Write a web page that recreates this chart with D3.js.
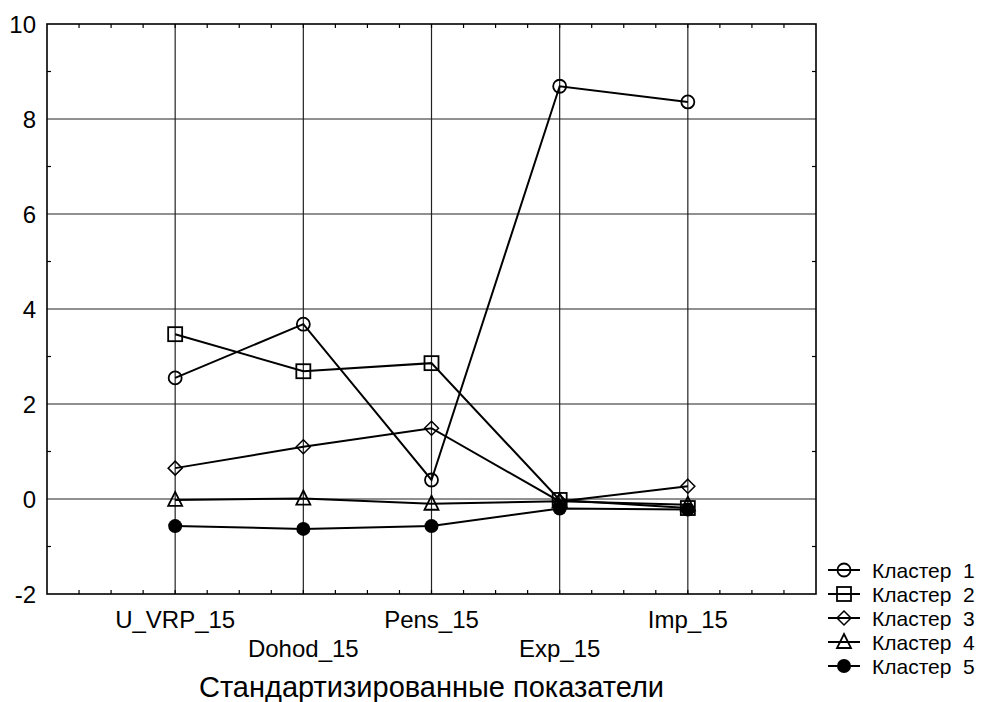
<!DOCTYPE html>
<html>
<head>
<meta charset="utf-8">
<script src="https://cdn.jsdelivr.net/npm/d3@7"></script>
<style>
  body { margin: 0; background: #fff; }
  svg { font-family: Arial, "Liberation Sans", sans-serif; }
</style>
</head>
<body>
<svg width="981" height="702"></svg>
<script>
const categories = ['U_VRP_15', 'Dohod_15', 'Pens_15', 'Exp_15', 'Imp_15'];
const cluster1 = [2.55, 3.68, 0.40, 8.69, 8.36];
const cluster2 = [3.47, 2.69, 2.86, -0.02, -0.19];
const cluster3 = [0.65, 1.10, 1.49, -0.05, 0.27];
const cluster4 = [-0.02, 0.01, -0.10, -0.05, -0.12];
const cluster5 = [-0.57, -0.63, -0.57, -0.20, -0.22];
const seriesNames = ['Кластер  1', 'Кластер  2', 'Кластер  3', 'Кластер  4', 'Кластер  5'];
const yTicks = [-2, 0, 2, 4, 6, 8, 10];
const xTitle = 'Стандартизированные показатели';

const series = [cluster1, cluster2, cluster3, cluster4, cluster5];
const shapes = ['circle', 'square', 'diamond', 'triangle', 'dot'];

const svg = d3.select('svg');
const plotLeft = 47, plotRight = 816, plotTop = 24, plotBottom = 594;

const x = d3.scaleLinear().domain([0, categories.length + 1]).range([plotLeft, plotRight]);
const y = d3.scaleLinear().domain([-2, 10]).range([plotBottom, plotTop]);

// grid lines
const grid = svg.append('g').attr('stroke', '#222').attr('stroke-width', 1.2);
grid.selectAll('line.h').data(yTicks.slice(1, -1)).enter().append('line')
    .attr('x1', plotLeft).attr('x2', plotRight)
    .attr('y1', d => y(d)).attr('y2', d => y(d));
grid.selectAll('line.v').data(categories).enter().append('line')
    .attr('x1', (d, i) => x(i + 1)).attr('x2', (d, i) => x(i + 1))
    .attr('y1', plotTop).attr('y2', plotBottom);

// minor ticks pointing inward
const xMinor = d3.range(1, (categories.length + 1) * 4).map(d => d / 4);
const yMinor = d3.range(-1, 10, 2);
const ticks = svg.append('g').attr('stroke', '#000').attr('stroke-width', 1.2);
ticks.selectAll('line.xb').data(xMinor).enter().append('line')
    .attr('x1', d => x(d)).attr('x2', d => x(d))
    .attr('y1', plotBottom).attr('y2', plotBottom - 4);
ticks.selectAll('line.xt').data(xMinor).enter().append('line')
    .attr('x1', d => x(d)).attr('x2', d => x(d))
    .attr('y1', plotTop).attr('y2', plotTop + 4);
ticks.selectAll('line.yl').data(yMinor).enter().append('line')
    .attr('x1', plotLeft).attr('x2', plotLeft + 4)
    .attr('y1', d => y(d)).attr('y2', d => y(d));
ticks.selectAll('line.yr').data(yMinor).enter().append('line')
    .attr('x1', plotRight).attr('x2', plotRight - 4)
    .attr('y1', d => y(d)).attr('y2', d => y(d));

// frame
svg.append('rect')
    .attr('x', plotLeft).attr('y', plotTop)
    .attr('width', plotRight - plotLeft).attr('height', plotBottom - plotTop)
    .attr('fill', 'none').attr('stroke', '#000').attr('stroke-width', 1.6);

// y labels
svg.append('g').selectAll('text').data(yTicks).enter().append('text')
    .attr('x', 36).attr('y', d => y(d) + 9)
    .attr('text-anchor', 'end')
    .attr('font-size', 24)
    .text(d => d);

// x labels, staggered in two rows
svg.append('g').selectAll('text').data(categories).enter().append('text')
    .attr('x', (d, i) => x(i + 1))
    .attr('y', (d, i) => i % 2 === 0 ? 628 : 657)
    .attr('text-anchor', 'middle')
    .attr('font-size', 24)
    .text(d => d);

svg.append('text')
    .attr('x', (plotLeft + plotRight) / 2).attr('y', 697)
    .attr('text-anchor', 'middle')
    .attr('font-size', 29)
    .text(xTitle);

function drawMarker(g, shape, cx, cy) {
    if (shape === 'circle') {
        g.append('circle').attr('cx', cx).attr('cy', cy).attr('r', 6.5)
            .attr('fill', 'none').attr('stroke', '#000').attr('stroke-width', 1.8);
    } else if (shape === 'dot') {
        g.append('circle').attr('cx', cx).attr('cy', cy).attr('r', 7)
            .attr('fill', '#000');
    } else if (shape === 'square') {
        g.append('rect').attr('x', cx - 7).attr('y', cy - 7).attr('width', 14).attr('height', 14)
            .attr('fill', 'none').attr('stroke', '#000').attr('stroke-width', 1.8);
    } else if (shape === 'diamond') {
        g.append('path').attr('d', `M${cx},${cy - 7}L${cx + 7},${cy}L${cx},${cy + 7}L${cx - 7},${cy}Z`)
            .attr('fill', 'none').attr('stroke', '#000').attr('stroke-width', 1.5);
    } else if (shape === 'triangle') {
        g.append('path').attr('d', `M${cx},${cy - 8}L${cx + 7},${cy + 6}L${cx - 7},${cy + 6}Z`)
            .attr('fill', 'none').attr('stroke', '#000').attr('stroke-width', 1.8);
    }
}

const line = d3.line().x((d, i) => x(i + 1)).y(d => y(d));

series.forEach((values, s) => {
    const g = svg.append('g');
    g.append('path').datum(values)
        .attr('d', line)
        .attr('fill', 'none').attr('stroke', '#000').attr('stroke-width', 2);
    values.forEach((v, i) => drawMarker(g, shapes[s], x(i + 1), y(v)));
});

// legend
const legend = svg.append('g');
seriesNames.forEach((name, s) => {
    const ly = 570 + s * 24;
    legend.append('line')
        .attr('x1', 828).attr('x2', 860).attr('y1', ly).attr('y2', ly)
        .attr('stroke', '#000').attr('stroke-width', 2);
    drawMarker(legend, shapes[s], 844, ly);
    legend.append('text')
        .attr('x', 872).attr('y', ly + 8)
        .attr('font-size', 21)
        .style('white-space', 'pre')
        .text(name);
});
</script>
</body>
</html>
